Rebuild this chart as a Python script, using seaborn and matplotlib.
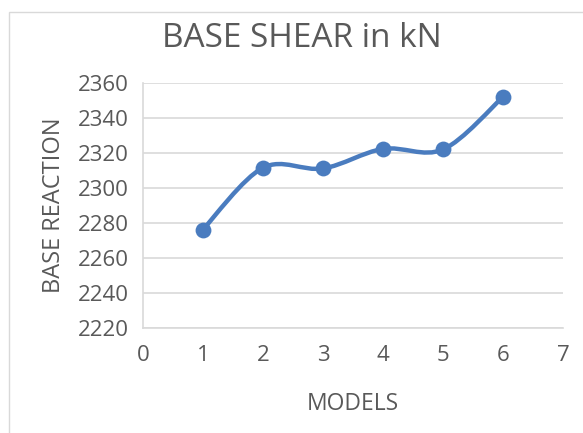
import numpy as np
import pandas as pd
import matplotlib
matplotlib.use('Agg')
import matplotlib.pyplot as plt
import seaborn as sns
from matplotlib.path import Path
from matplotlib.patches import PathPatch, Rectangle

models = [1, 2, 3, 4, 5, 6]
base_reaction = [2276.3, 2311.6, 2311.2, 2322.4, 2322.1, 2352.2]

sns.set_theme(style="white")
plt.rcParams['font.family'] = ['Open Sans', 'DejaVu Sans']

txt = '#595959'
blue = '#4a7cbf'
grid = '#d9d9d9'

df = pd.DataFrame({'model': models, 'reaction': base_reaction})

fig = plt.figure(figsize=(5.83, 4.33), dpi=100)
ax = fig.add_axes([0.245, 0.2425, 0.721, 0.5655])

# smoothed line like the spreadsheet (bezier through the points)
x = np.array(models, dtype=float)
y = np.array(base_reaction, dtype=float)
verts = [(x[0], y[0])]
codes = [Path.MOVETO]
for i in range(len(x) - 1):
    x0, y0 = (x[i - 1], y[i - 1]) if i > 0 else (x[i], y[i])
    x3, y3 = (x[i + 2], y[i + 2]) if i + 2 < len(x) else (x[i + 1], y[i + 1])
    c1 = (x[i] + (x[i + 1] - x0) / 6, y[i] + (y[i + 1] - y0) / 6)
    c2 = (x[i + 1] - (x3 - x[i]) / 6, y[i + 1] - (y3 - y[i]) / 6)
    verts += [c1, c2, (x[i + 1], y[i + 1])]
    codes += [Path.CURVE4] * 3
ax.add_patch(PathPatch(Path(verts, codes), facecolor='none', edgecolor=blue,
                       lw=3.2, capstyle='round', joinstyle='round', zorder=3))

sns.scatterplot(data=df, x='model', y='reaction', ax=ax, color=blue, s=130,
                edgecolor=blue, linewidth=0, zorder=4)

ax.set_xlim(0, 7)
ax.set_ylim(2220, 2360)
ax.set_xticks(range(0, 8))
ax.set_yticks(range(2220, 2361, 20))
ax.yaxis.grid(True, color=grid, lw=1.2)
ax.set_axisbelow(True)
for s in ['top', 'right']:
    ax.spines[s].set_visible(False)
for s in ['left', 'bottom']:
    ax.spines[s].set_color(grid)
    ax.spines[s].set_linewidth(1.2)
ax.tick_params(axis='both', length=0, labelsize=16, colors=txt)
ax.tick_params(axis='x', pad=12)
ax.tick_params(axis='y', pad=10)
ax.set_xlabel('MODELS', fontsize=16.5, color=txt, va='center')
ax.set_ylabel('BASE REACTION', fontsize=17, color=txt, va='center')
ax.xaxis.set_label_coords(0.5, -0.31)
ax.yaxis.set_label_coords(-0.212, 0.5)

fig.text(0.518, 0.912, 'BASE SHEAR in kN', ha='center', va='center',
         fontsize=24, color=txt)

fig.patches.append(Rectangle((9 / 583, -0.1), 1.2, 1 - 12 / 433 + 0.1,
                             transform=fig.transFigure, fill=False,
                             edgecolor='#d9d9d9', lw=1))

fig.savefig('out.png', dpi=100)
